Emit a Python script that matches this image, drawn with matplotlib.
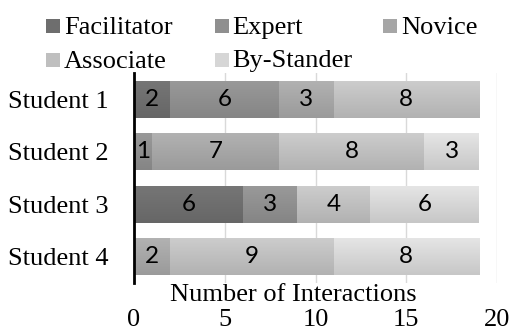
import numpy as np
import matplotlib
matplotlib.use("Agg")
import matplotlib.pyplot as plt
from matplotlib.patches import Rectangle
from matplotlib.colors import to_rgb

students = ["Student 1", "Student 2", "Student 3", "Student 4"]
roles = ["Facilitator", "Expert", "Novice", "Associate", "By-Stander"]
facilitator = [2, 0, 6, 0]
expert = [6, 1, 3, 0]
novice = [3, 7, 0, 2]
associate = [8, 8, 4, 9]
bystander = [0, 3, 6, 8]
xticks = [0, 5, 10, 15, 20]
xlabel = "Number of Interactions"

series = [facilitator, expert, novice, associate, bystander]
colors = ["#6e6e6e", "#8f8f8f", "#a6a6a6", "#bfbfbf", "#d6d6d6"]

serif = "Liberation Serif"
W, H = 511, 331
fig = plt.figure(figsize=(W / 100, H / 100), dpi=100)
ax = fig.add_axes([134 / W, 1 - 283 / H, (497 - 134) / W, 210 / H])

def shade(c, f):
    r = np.array(to_rgb(c))
    return np.clip(r * f, 0, 1)

y = np.arange(len(students))
left = np.zeros(len(students))
for name, vals, col in zip(roles, series, colors):
    vals = np.array(vals, dtype=float)
    bars = ax.barh(y, vals, left=left, height=0.7, color=col, zorder=2, label=name)
    for rect, v in zip(bars, vals):
        if v <= 0:
            continue
        x0, y0 = rect.get_xy()
        w, h = rect.get_width(), rect.get_height()
        t = np.linspace(0, 1, 64)
        top, bot = shade(col, 1.07), shade(col, 0.93)
        grad = (top[None, :] * (1 - t[:, None]) + bot[None, :] * t[:, None])[:, None, :]
        im = ax.imshow(grad, extent=(x0, x0 + w, y0, y0 + h), origin="lower",
                       aspect="auto", zorder=2.5, interpolation="bilinear")
        im.set_clip_path(rect)
        ax.text(x0 + w / 2, y0 + h / 2, f"{int(v)}", ha="center", va="center",
                fontsize=17.5, family="Lato", color="black", zorder=3)
    left += vals

ax.set_xlim(0, 20)
ax.set_ylim(3.5, -0.5)
ax.set_xticks(xticks)
ax.set_xticklabels([str(v) for v in xticks], family=serif, fontsize=19)
ax.set_yticks(y)
ax.set_yticklabels(students, family=serif, fontsize=19)
ax.tick_params(axis="x", length=0, pad=19)
ax.tick_params(axis="y", length=0, pad=18)
ax.grid(axis="x", color="#d9d9d9", linewidth=1, zorder=0)
ax.set_axisbelow(True)
for s in ["top", "right", "bottom"]:
    ax.spines[s].set_visible(False)
ax.spines["left"].set_linewidth(2)
ax.spines["left"].set_color("black")
ax.spines["left"].set_zorder(4)

fig.text(293 / W, 1 - 301 / H, xlabel, ha="center", va="baseline",
         family=serif, fontsize=19)

# legend: three columns, two rows
for i, (name, col) in enumerate(zip(roles, colors)):
    c, r = i % 3, i // 3
    mx = 46 + c * 168.5
    base = 34 + r * 33.5
    fig.patches.append(Rectangle((mx / W, 1 - (base - 1) / H), 14 / W, 14 / H,
                                 transform=fig.transFigure, facecolor=col,
                                 edgecolor="none"))
    fig.text((mx + 18) / W, 1 - base / H, name, ha="left", va="baseline",
             family=serif, fontsize=19)

fig.savefig("out.png", dpi=100)
